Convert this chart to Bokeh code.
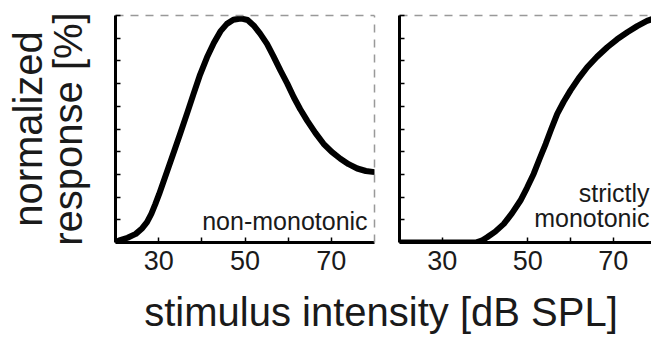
from bokeh.plotting import figure
from bokeh.layouts import column, row
from bokeh.models import LinearAxis, FixedTicker, Range1d, Label
from bokeh.embed import file_html
from bokeh.resources import INLINE

FONT = "Liberation Sans"
TXT = "#1a1a1a"

# ---- data ----
nonmono_x = [20, 20.9, 22.8, 24.7, 26.2, 27.3, 28.3, 29.2, 30.1, 31.7, 33.6, 35, 36.6, 38.1,
             39.6, 41.2, 42.8, 44.3, 45.8, 47.3, 49, 50.6, 52, 53.5, 55.1, 56.6, 58.2,
             59.8, 61.3, 62.8, 64.4, 66.3, 68.2, 70.1, 72.1, 74, 76, 78, 80]
nonmono_y = [0, 0.9, 2.1, 3.8, 6.3, 9.0, 12.6, 16.8, 21.3, 30.0, 40.3, 48, 57, 65.6,
             74, 81.6, 88, 93, 96.3, 98.1, 98.7, 98, 95.6, 92, 87.5, 82, 75.8,
             70, 64, 58.7, 53.7, 48.3, 43.5, 39.9, 36.9, 34.5, 32.6, 31.5, 31]

mono_x = [20, 37.8, 39.2, 40.5, 42.4, 44.4, 46.3, 48.3, 49.8, 51.4, 52.8, 54.2, 55.5,
          56.9, 58.4, 60, 61.9, 63.9, 66.2, 68.6, 70.9, 73.3, 75.6, 77.9, 80]
mono_y = [0, 0, 0.8, 2.3, 4.8, 8.2, 12.8, 18.5, 24, 30.3, 37, 43.5, 50,
          56.7, 62, 67, 72.3, 77.2, 81.8, 86, 89.5, 92.6, 95.3, 97.6, 99]

x_major_ticks = [30, 50, 70]
x_minor_ticks = [40, 60]
y_ticks = [0, 10, 20, 30, 40, 50, 60, 70, 80, 90, 100]

y_label_lines = ["normalized", "response [%]"]
x_label = "stimulus intensity [dB SPL]"
left_note = "non-monotonic"
right_note = ["strictly", "monotonic"]


def bare_axis(**kw):
    return LinearAxis(ticker=FixedTicker(ticks=[]), major_tick_line_color=None,
                      minor_tick_line_color=None, major_label_text_color=None,
                      major_label_text_font_size="1px", major_label_standoff=0, **kw)


def make_panel(width, x_end, min_left, min_right, right_dashed):
    p = figure(width=width, height=282, x_range=Range1d(20, x_end), y_range=Range1d(0, 100),
               output_backend="svg", toolbar_location=None,
               min_border_left=min_left, min_border_right=min_right,
               min_border_top=15, min_border_bottom=40)
    p.grid.visible = False
    p.outline_line_color = None
    p.background_fill_color = "white"
    p.border_fill_color = "white"

    xa = p.xaxis[0]
    xa.ticker = FixedTicker(ticks=x_major_ticks, minor_ticks=x_minor_ticks)
    xa.major_tick_in = 5
    xa.major_tick_out = 0
    xa.minor_tick_in = 5
    xa.minor_tick_out = 0
    xa.major_tick_line_width = 1.5
    xa.minor_tick_line_width = 1.5
    xa.axis_line_width = 3
    xa.axis_line_color = "black"
    xa.major_label_text_font = FONT
    xa.major_label_text_font_size = "27px"
    xa.major_label_text_color = TXT
    xa.major_label_standoff = 8

    ya = p.yaxis[0]
    ya.ticker = FixedTicker(ticks=y_ticks)
    ya.major_tick_in = 5
    ya.major_tick_out = 0
    ya.minor_tick_line_color = None
    ya.major_tick_line_width = 1.5
    ya.axis_line_width = 3
    ya.axis_line_color = "black"
    ya.major_label_text_color = None
    ya.major_label_text_font_size = "1px"
    ya.major_label_standoff = 0

    p.add_layout(bare_axis(axis_line_dash="8 7", axis_line_color="#999999",
                           axis_line_width=1.5), "above")
    if right_dashed:
        p.add_layout(bare_axis(axis_line_dash="8 7", axis_line_color="#999999",
                               axis_line_width=1.5), "right")
    return p


def note(x, y, text):
    return Label(x=x, y=y, text=text, text_align="right", text_baseline="alphabetic",
                 text_font=FONT, text_font_size="25px", text_color=TXT)


# left panel
p1 = make_panel(385, 80, 115, 11, True)
p1.line(nonmono_x, nonmono_y, line_width=6, line_color="black", line_cap="round", line_join="round")
p1.add_layout(note(78.4, 9.5, left_note))
ya1 = p1.yaxis[0]
ya1.axis_label = y_label_lines[1]
ya1.axis_label_text_font = FONT
ya1.axis_label_text_font_size = "40px"
ya1.axis_label_text_font_style = "normal"
ya1.axis_label_text_color = TXT
ya1.axis_label_standoff = 26
outer = bare_axis(axis_line_color=None, axis_label=y_label_lines[0],
                  axis_label_text_font=FONT, axis_label_text_font_size="40px",
                  axis_label_text_font_style="normal", axis_label_text_color=TXT,
                  axis_label_standoff=-7)
p1.add_layout(outer, "left")

# right panel
p2 = make_panel(266, 78.95, 14, 0, False)
p2.line(mono_x, mono_y, line_width=6, line_color="black", line_cap="round", line_join="round")
p2.add_layout(note(78.5, 22.0, right_note[0]))
p2.add_layout(note(78.5, 10.6, right_note[1]))

# shared x label strip
p3 = figure(width=651, height=58, x_range=Range1d(0, 1), y_range=Range1d(0, 1),
            output_backend="svg", toolbar_location=None,
            x_axis_location=None, y_axis_location=None,
            min_border_left=110, min_border_right=0, min_border_top=51, min_border_bottom=0)
p3.grid.visible = False
p3.outline_line_color = None
p3.border_fill_color = "white"
p3.background_fill_color = "white"
p3.add_layout(bare_axis(axis_line_color=None, axis_label=x_label,
                        axis_label_text_font=FONT, axis_label_text_font_size="40px",
                        axis_label_text_font_style="normal", axis_label_text_color=TXT,
                        axis_label_standoff=0), "above")

layout = column(row(p1, p2, spacing=0), p3, spacing=0)
open("out.html", "w").write(file_html(layout, INLINE))
